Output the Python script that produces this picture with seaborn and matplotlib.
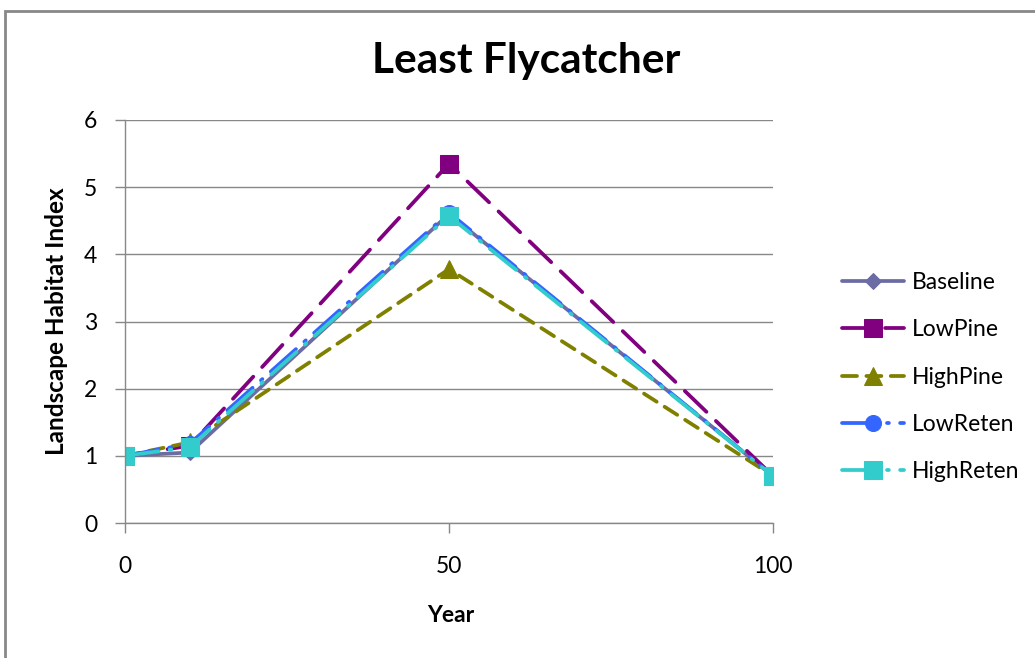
import matplotlib
matplotlib.use("Agg")
import matplotlib.pyplot as plt
import seaborn as sns
import pandas as pd
from matplotlib.patches import Rectangle

years = [0, 10, 50, 100]
baseline = [1.0, 1.05, 4.60, 0.70]
lowpine = [1.0, 1.15, 5.35, 0.70]
highpine = [1.0, 1.20, 3.78, 0.70]
lowreten = [1.0, 1.18, 4.62, 0.70]
highreten = [1.0, 1.13, 4.57, 0.70]
series_names = ["Baseline", "LowPine", "HighPine", "LowReten", "HighReten"]
y_ticks = [0, 1, 2, 3, 4, 5, 6]
x_ticks = [0, 50, 100]

sns.set_theme(style="white")
plt.rcParams["font.family"] = ["Lato", "DejaVu Sans"]
plt.rcParams["text.color"] = "#000000"

df = pd.DataFrame({"Year": years * 5,
                   "Value": baseline + lowpine + highpine + lowreten + highreten,
                   "Series": sum([[n] * len(years) for n in series_names], [])})

styles = {
    "Baseline": dict(color="#6C6CA4", marker="D", ms=8, dashes=(None, None)),
    "LowPine": dict(color="#800080", marker="s", ms=12.5, dashes=(8, 3.5)),
    "HighPine": dict(color="#808000", marker="^", ms=12.5, dashes=(4, 2.5)),
    "LowReten": dict(color="#3366FF", marker="o", ms=11.5, dashes=(9, 3, 0.5, 3)),
    "HighReten": dict(color="#33CCCC", marker="s", ms=12.5, dashes=(9, 3, 0.5, 3)),
}

fig = plt.figure(figsize=(10.35, 6.58), dpi=100)
ax = fig.add_axes([125 / 1035, 1 - 523 / 658, (773 - 125) / 1035, (523 - 120) / 658])

for name in series_names:
    st = styles[name]
    sub = df[df["Series"] == name]
    sns.lineplot(data=sub, x="Year", y="Value", ax=ax, color=st["color"],
                 marker=st["marker"], markersize=st["ms"], markeredgecolor=st["color"],
                 linewidth=2.7, label=name, errorbar=None)
    line = ax.lines[-1]
    if st["dashes"][0] is not None:
        line.set_dashes(st["dashes"])
        line.set_dash_capstyle("round")

ax.set_xlim(0, 100)
ax.set_ylim(0, 6)
ax.set_xticks(x_ticks)
ax.set_yticks(y_ticks)
ax.grid(axis="y", color="#888888", linewidth=1)
ax.grid(axis="x", visible=False)
for s in ["top", "right"]:
    ax.spines[s].set_visible(False)
for s in ["left", "bottom"]:
    ax.spines[s].set_color("#888888")
    ax.spines[s].set_linewidth(1)
ax.tick_params(axis="both", labelsize=16.5, length=7, width=1,
               direction="out", bottom=True, left=True, color="#888888",
               labelcolor="#000000")
ax.tick_params(axis="x", pad=17)
ax.tick_params(axis="y", pad=13)
ax.set_xlabel("")
ax.set_ylabel("")
fig.text(451 / 1035, 1 - 615 / 658, "Year", fontsize=16.5, fontweight="bold",
         ha="center", va="center", color="#000000")
fig.text(56 / 1035, 1 - 321 / 658, "Landscape Habitat Index", fontsize=17.5,
         fontweight="bold", ha="center", va="center", rotation=90, color="#000000")
fig.text(526 / 1035, 1 - 61 / 658, "Least Flycatcher", fontsize=30.5,
         fontweight="bold", ha="center", va="center", color="#000000")

handles, labels = ax.get_legend_handles_labels()
leg = ax.legend(handles, labels, loc="center left", bbox_to_anchor=(1.075, 0.362),
                frameon=False, fontsize=16.5, handlelength=2.7, labelspacing=1.15,
                handletextpad=0.35, labelcolor="#000000")

fig.patches.append(Rectangle((5 / 1035, -0.05), 1.1, 1 - 11 / 658 + 0.05,
                             transform=fig.transFigure, fill=False,
                             edgecolor="#888888", linewidth=2))

fig.savefig("out.png", dpi=100)
